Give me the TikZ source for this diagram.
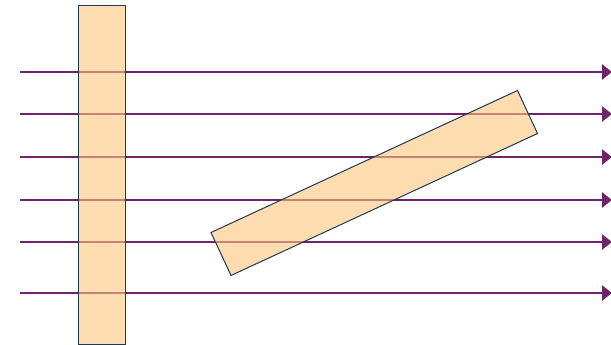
\documentclass[tikz,border=0pt]{standalone}
\usetikzlibrary{arrows.meta}

\definecolor{raypurple}{RGB}{112,36,104}
\definecolor{slabfill}{RGB}{252,197,122}
\definecolor{slabedge}{RGB}{31,56,84}

\begin{document}
\begin{tikzpicture}[
  x=1pt, y=-1pt,
  >={Triangle[length=10pt, width=15pt]},
  ray/.style={->, draw=raypurple, fill=raypurple, line width=2.8pt},
  slab/.style={draw=slabedge, line width=1pt, fill=slabfill, fill opacity=0.6, draw opacity=1},
]
  \useasboundingbox (0,0) rectangle (611,345);

  % Rays
  \foreach \y [count=\i] in {72,114,157,200,242,293} {
    \coordinate (src\i) at (20,\y);
    \coordinate (dst\i) at (612,\y);
    \draw[ray] (src\i) -- (dst\i);
  }

  % Upright slab
  \draw[slab] (78,6) rectangle (125.5,344);

  % Tilted slab
  \coordinate (tiltA) at (211,232.5);
  \coordinate (tiltB) at (517.5,90.5);
  \coordinate (tiltC) at (537.5,133.5);
  \coordinate (tiltD) at (231,275.5);
  \draw[slab] (tiltA) -- (tiltB) -- (tiltC) -- (tiltD) -- cycle;
\end{tikzpicture}
\end{document}
